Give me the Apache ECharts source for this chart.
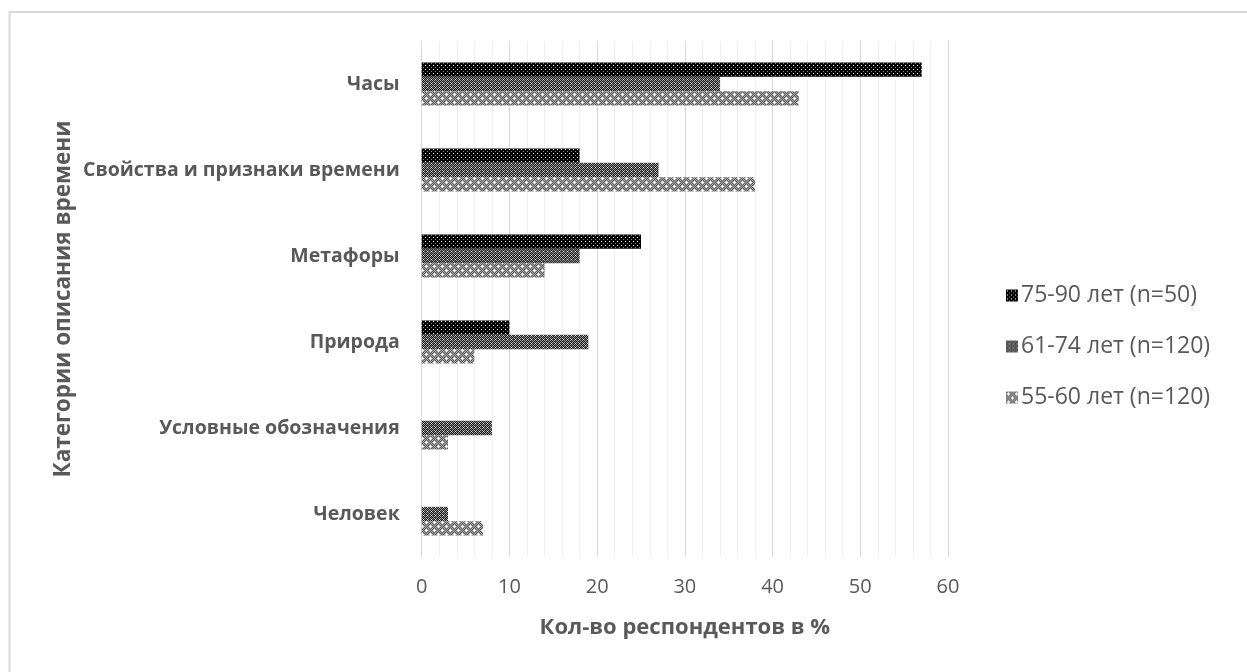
<!DOCTYPE html>
<html>
<head>
<meta charset="utf-8">
<script src="https://cdn.jsdelivr.net/npm/echarts@6/dist/echarts.min.js"></script>
<style>
html,body{margin:0;padding:0;background:#fff;}
#chart{width:1247px;height:672px;}
</style>
</head>
<body>
<div id="chart"></div>
<script>
var categories = ['Часы', 'Свойства и признаки времени', 'Метафоры', 'Природа', 'Условные обозначения', 'Человек'];
var seriesNames = ['75-90 лет (n=50)', '61-74 лет (n=120)', '55-60 лет (n=120)'];
var values7590 = [57, 18, 25, 10, 0, 0];
var values6174 = [34, 27, 18, 19, 8, 3];
var values5560 = [43, 38, 14, 6, 3, 7];
var xTicks = [0, 10, 20, 30, 40, 50, 60];

function makePattern(size, base, pixels) {
  var c = document.createElement('canvas');
  c.width = size; c.height = size;
  var ctx = c.getContext('2d');
  ctx.fillStyle = base;
  ctx.fillRect(0, 0, size, size);
  pixels.forEach(function (p) {
    ctx.fillStyle = p[2];
    ctx.fillRect(p[0], p[1], 1, 1);
  });
  return { image: c, repeat: 'repeat' };
}

var patA = makePattern(4, '#000000', [[1,1,'#ffffff'],[3,3,'#8a8a8a']]);
var patB = makePattern(4, '#1e1e1e', [[0,0,'#a0a0a0'],[2,0,'#a0a0a0'],[1,1,'#a0a0a0'],[3,1,'#707070'],[0,2,'#a0a0a0'],[2,2,'#a0a0a0'],[1,3,'#707070'],[3,3,'#e0e0e0']]);
var patCpx = [];
for (var yy = 0; yy < 8; yy++) {
  for (var xx = 0; xx < 8; xx++) {
    if ((xx + yy) % 2 === 0) patCpx.push([xx, yy, '#a8a8a8']);
  }
}
[[2,1],[1,2],[2,2],[3,2],[2,3],[6,5],[5,6],[6,6],[7,6],[6,7]].forEach(function (p) { patCpx.push([p[0], p[1], '#f4f4f4']); });
var patC = makePattern(8, '#5c5c5c', patCpx);

var chart = echarts.init(document.getElementById('chart'), null, { renderer: 'canvas' });
var fontFam = '"Open Sans", "Noto Sans", sans-serif';
chart.setOption({
  animation: false,
  backgroundColor: '#ffffff',
  graphic: [{
    type: 'rect',
    shape: { x: 9.5, y: 12, width: 1300, height: 700 },
    style: { fill: 'none', stroke: '#d9d9d9', lineWidth: 2 },
    silent: true
  }],
  grid: { left: 421.7, right: 299, top: 41, bottom: 115, containLabel: false },
  legend: {
    orient: 'vertical',
    left: 1001,
    top: 279,
    itemWidth: 12,
    itemHeight: 12,
    itemGap: 28,
    icon: 'rect',
    textStyle: { fontSize: 23, color: '#595959', fontFamily: fontFam, padding: [0, 0, 0, -2] },
    data: seriesNames
  },
  xAxis: {
    type: 'value',
    min: xTicks[0],
    max: xTicks[xTicks.length - 1],
    interval: 10,
    name: 'Кол-во респондентов в %',
    nameLocation: 'middle',
    nameGap: 60,
    nameTextStyle: { fontSize: 22, fontWeight: 'bold', color: '#595959', fontFamily: fontFam },
    axisLine: { show: false },
    axisTick: { show: false },
    axisLabel: { fontSize: 20, color: '#595959', margin: 20, fontFamily: fontFam },
    splitLine: { show: true, lineStyle: { color: '#d9d9d9', width: 1 } },
    minorTick: { show: false, splitNumber: 5 },
    minorSplitLine: { show: true, lineStyle: { color: '#efefef', width: 1 } }
  },
  yAxis: {
    type: 'category',
    inverse: true,
    data: categories,
    name: 'Категории описания времени',
    nameLocation: 'middle',
    nameRotate: 90,
    nameGap: 347,
    nameTextStyle: { fontSize: 22.5, fontWeight: 'bold', color: '#595959', fontFamily: fontFam },
    axisLine: { show: true, lineStyle: { color: '#d9d9d9', width: 1 } },
    axisTick: { show: false },
    axisLabel: { fontSize: 19.5, fontWeight: 'bold', color: '#595959', margin: 22, fontFamily: fontFam }
  },
  series: [
    { name: seriesNames[0], type: 'bar', data: values7590, barGap: '0%', barCategoryGap: '50%', itemStyle: { color: patA } },
    { name: seriesNames[1], type: 'bar', data: values6174, barGap: '0%', barCategoryGap: '50%', itemStyle: { color: patB } },
    { name: seriesNames[2], type: 'bar', data: values5560, barGap: '0%', barCategoryGap: '50%', itemStyle: { color: patC } }
  ]
});
</script>
</body>
</html>
